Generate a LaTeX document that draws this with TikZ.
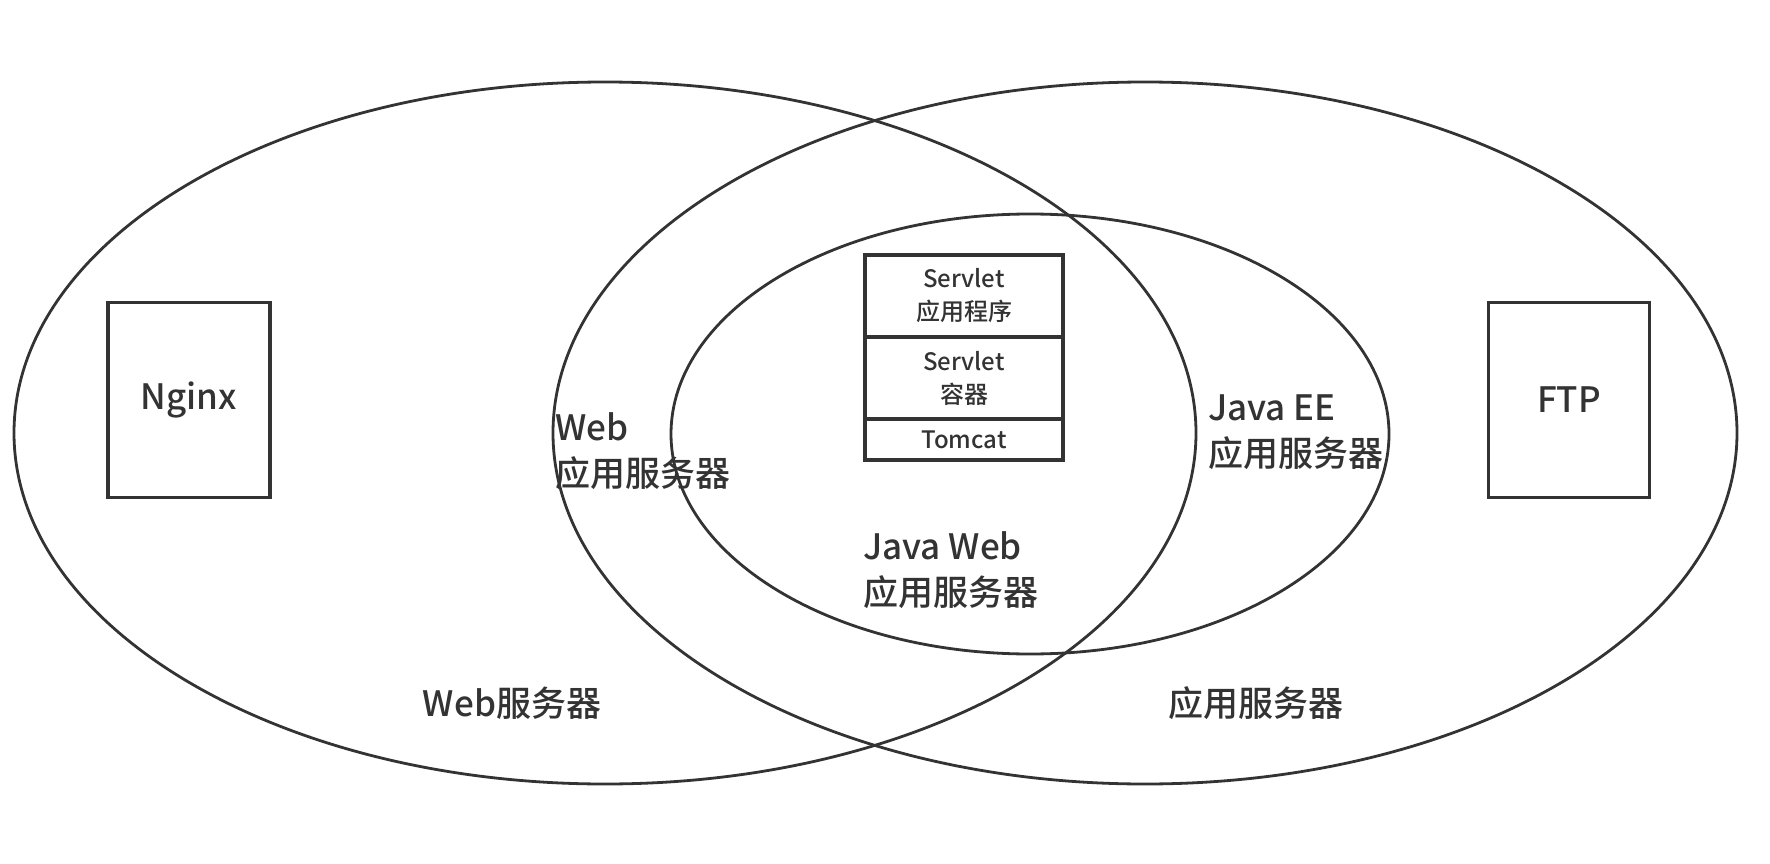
\documentclass[tikz,border=0pt]{standalone}
\usepackage{fontspec}
\setmainfont{Noto Sans CJK SC}[UprightFont={* Medium}]
\usetikzlibrary{shapes.geometric}
\definecolor{ink}{HTML}{333333}
\tikzset{
  venn/.style={ellipse, draw=ink, line width=2.8pt, inner sep=0pt},
  serverbox/.style={rectangle, draw=ink, line width=3.2pt, inner sep=0pt, text=ink,
    font=\fontsize{35}{47}\selectfont},
  stackbox/.style={rectangle, draw=ink, line width=3.4pt, inner sep=0pt, text=ink,
    minimum width=198pt, align=center, font=\fontsize{24}{33}\selectfont},
  lbl/.style={inner sep=0pt, text=ink, align=left, font=\fontsize{35}{46}\selectfont}
}
\begin{document}
\begin{tikzpicture}[x=1pt,y=-1pt]
\useasboundingbox (0,0) rectangle (1770,864);
% ellipses
\node[venn, minimum width=1182pt, minimum height=702pt] (webs) at (605,433) {};
\node[venn, minimum width=1184pt, minimum height=702pt] (apps) at (1145,433) {};
\node[venn, minimum width=718pt, minimum height=440pt] (jee) at (1030,434) {};
% side boxes
\node[serverbox, minimum width=162pt, minimum height=195pt] (nginx) at (189,400) {Nginx};
\node[serverbox, minimum width=161pt, minimum height=195pt] (ftp) at (1569,400) {FTP};
% servlet stack
\node[stackbox, minimum height=82pt] (app) at (964,296) {Servlet\\应用程序};
\node[stackbox, minimum height=82pt] (cont) at (964,378) {Servlet\\容器};
\node[stackbox, minimum height=41pt] (tomcat) at (964,439.5) {Tomcat};
% labels
\node[lbl, anchor=west] (webapp) at (555,451) {Web\\应用服务器};
\node[lbl, anchor=west] (jwapp) at (863,570) {Java Web\\应用服务器};
\node[lbl, anchor=west] (jeeapp) at (1208,432) {Java EE\\应用服务器};
\node[lbl] (webserver) at (512,703) {Web服务器};
\node[lbl] (appserver) at (1256,703) {应用服务器};
\end{tikzpicture}
\end{document}
